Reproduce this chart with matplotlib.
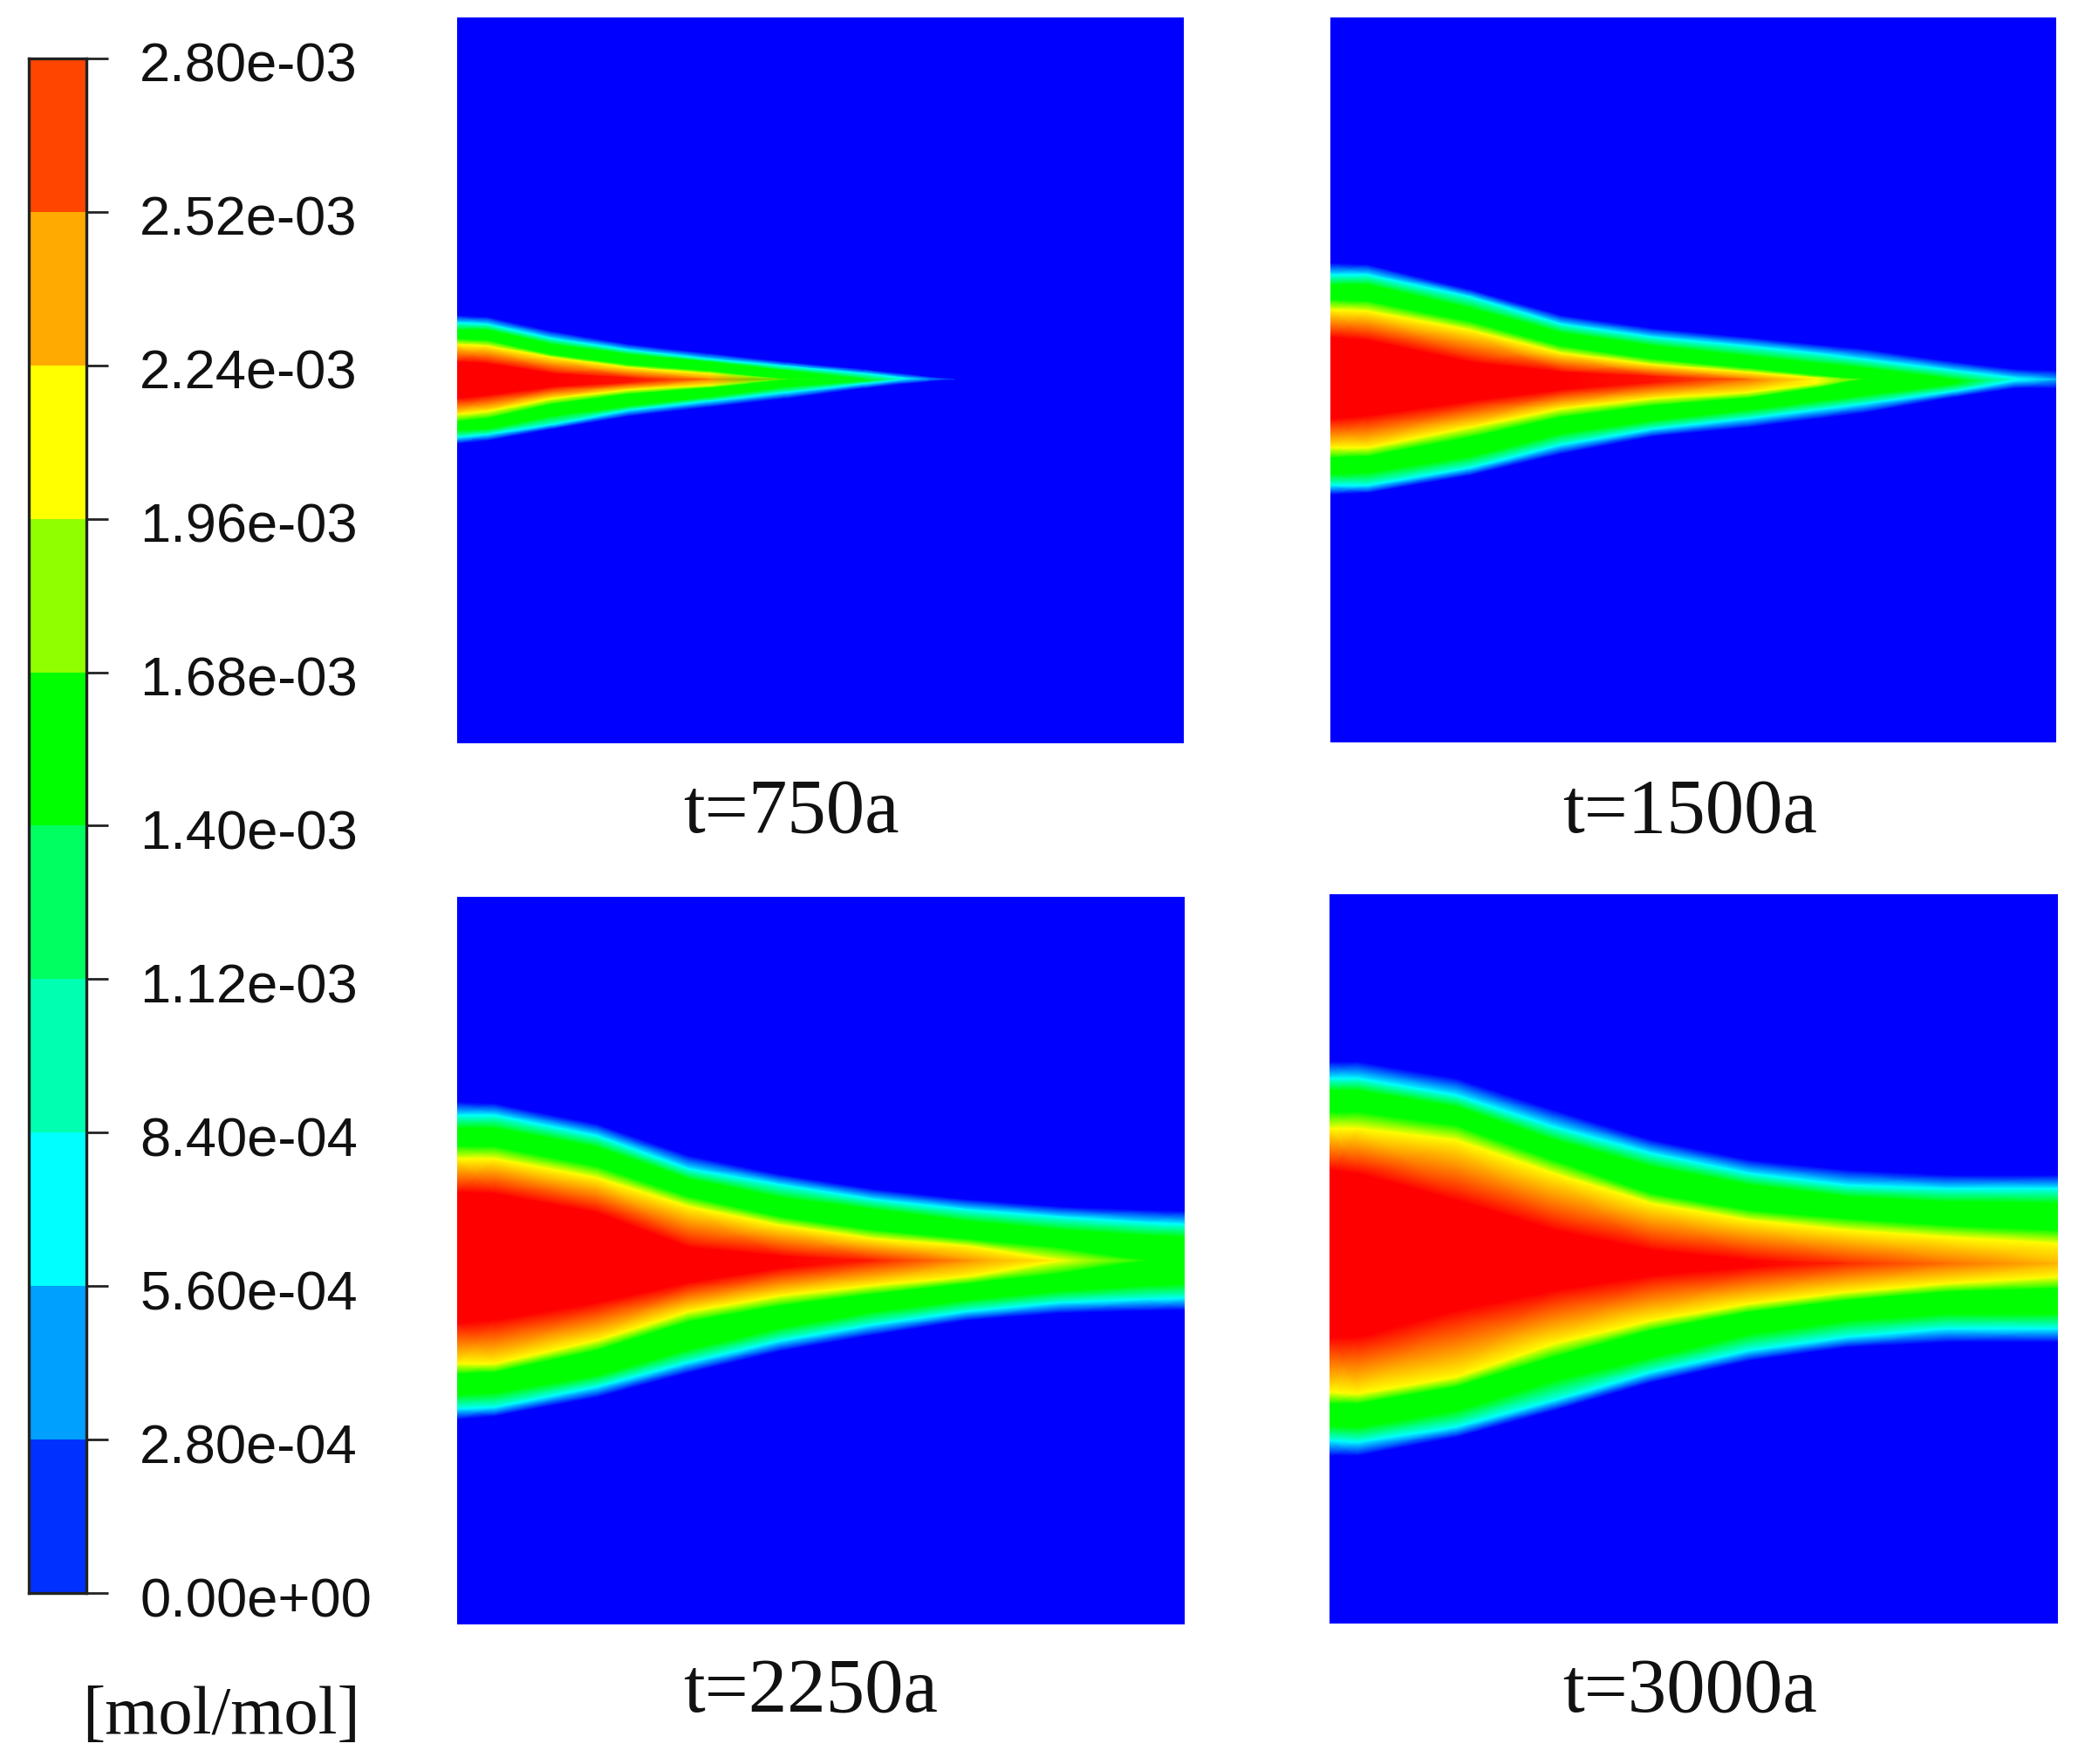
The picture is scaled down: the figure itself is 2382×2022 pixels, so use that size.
import numpy as np
import matplotlib
matplotlib.use('Agg')
import matplotlib.pyplot as plt
from matplotlib.colors import ListedColormap, LinearSegmentedColormap, Normalize
from matplotlib.transforms import ScaledTranslation

W, H = 2382, 2022

# colour bar
bar_ticks = [0.0, 2.8e-4, 5.6e-4, 8.4e-4, 1.12e-3, 1.4e-3, 1.68e-3, 1.96e-3, 2.24e-3, 2.52e-3, 2.8e-3]
bar_labels = ['0.00e+00', '2.80e-04', '5.60e-04', '8.40e-04', '1.12e-03', '1.40e-03',
              '1.68e-03', '1.96e-03', '2.24e-03', '2.52e-03', '2.80e-03']
bar_colors = ['#0030ff', '#00a0ff', '#00ffff', '#00ffb0', '#00ff60', '#00ff00',
              '#90ff00', '#ffff00', '#ffaa00', '#ff4500']

# mole fraction on each contour, outer edge to centre
edge_values = [0.0, 7.0e-4, 1.2e-3, 1.7e-3, 2.1e-3, 2.8e-3]
edge_colors = ['#0000ff', '#00ffff', '#00ff00', '#00ff00', '#ffff00', '#ff0000']

# plume edges in px of the reference crops (blue, cyan, green, green, yellow, red, centre, and back)
p1_crop = (500, 300, 2.24, 3.0)
p1_x = [53, 130, 300, 500, 700, 900, 1100, 1200, 1330]
p1_up = [[185, 190, 240, 285, 315, 345, 370, 385, 405],
         [210, 215, 265, 305, 335, 360, 385, 400, 405],
         [235, 235, 285, 320, 345, 375, 403, 405, 405],
         [265, 270, 320, 355, 375, 405, 405, 405, 405],
         [285, 290, 330, 365, 385, 405, 405, 405, 405],
         [345, 350, 385, 400, 405, 405, 405, 405, 405]]
p1_mid = [405, 405, 405, 405, 405, 405, 405, 405, 405]
p1_mid_val = [2.8e-3, 2.8e-3, 2.8e-3, 2.75e-3, 2.45e-3, 1.75e-3, 1.15e-3, 7.0e-4, 0.0]
p1_lo = [[625, 615, 575, 530, 500, 470, 435, 420, 405],
         [605, 595, 560, 510, 480, 450, 420, 405, 405],
         [580, 575, 530, 495, 465, 430, 410, 405, 405],
         [550, 540, 490, 455, 435, 408, 405, 405, 405],
         [525, 515, 470, 440, 425, 405, 405, 405, 405],
         [470, 460, 430, 415, 405, 405, 405, 405, 405]]

p2_crop = (1525, 290, 1.885, 3.0)
p2_x = [0, 80, 300, 500, 700, 900, 1050, 1150, 1350, 1480, 1568]
p2_up = [[35, 40, 125, 215, 260, 290, 315, 330, 375, 400, 405],
         [75, 75, 150, 245, 290, 320, 345, 365, 405, 430, 435],
         [110, 110, 190, 275, 320, 355, 380, 395, 435, 435, 435],
         [160, 165, 235, 320, 365, 395, 420, 435, 435, 435, 435],
         [195, 200, 265, 345, 385, 410, 430, 435, 435, 435, 435],
         [290, 300, 375, 410, 425, 435, 435, 435, 435, 435, 435]]
p2_mid = [435, 435, 435, 435, 435, 435, 435, 435, 435, 435, 435]
p2_mid_val = [2.8e-3, 2.8e-3, 2.8e-3, 2.8e-3, 2.75e-3, 2.5e-3, 2.1e-3, 1.7e-3, 1.2e-3, 7.0e-4, 5.0e-4]
p2_lo = [[830, 825, 765, 690, 630, 600, 570, 550, 495, 465, 465],
         [800, 800, 740, 660, 605, 570, 540, 520, 475, 440, 435],
         [760, 755, 700, 620, 575, 540, 510, 490, 450, 435, 435],
         [705, 700, 635, 565, 525, 500, 465, 435, 435, 435, 435],
         [670, 670, 600, 535, 500, 480, 450, 435, 435, 435, 435],
         [570, 560, 510, 470, 445, 435, 435, 435, 435, 435, 435]]

p3_crop = (524, 1240, 1.88, 3.0)
p3_x = [0, 80, 300, 500, 700, 900, 1100, 1300, 1490, 1568]
p3_up = [[70, 75, 145, 255, 320, 370, 405, 430, 442, 445],
         [115, 115, 185, 300, 355, 405, 440, 465, 485, 490],
         [160, 160, 225, 335, 400, 440, 480, 510, 530, 535],
         [220, 222, 290, 395, 465, 510, 540, 570, 615, 615],
         [265, 265, 330, 430, 495, 540, 565, 615, 615, 615],
         [380, 385, 450, 570, 600, 615, 615, 615, 615, 615]]
p3_mid = [615, 615, 615, 615, 615, 615, 615, 615, 615, 615]
p3_mid_val = [2.8e-3, 2.8e-3, 2.8e-3, 2.8e-3, 2.8e-3, 2.72e-3, 2.4e-3, 2.1e-3, 1.7e-3, 1.5e-3]
p3_lo = [[1160, 1150, 1085, 1000, 925, 870, 820, 795, 787, 785],
         [1125, 1120, 1050, 965, 890, 835, 790, 760, 748, 745],
         [1075, 1070, 1010, 920, 845, 790, 750, 720, 700, 695],
         [1005, 1000, 925, 825, 770, 730, 695, 660, 615, 615],
         [970, 970, 890, 790, 735, 700, 670, 615, 615, 615],
         [830, 820, 760, 690, 640, 615, 615, 615, 615, 615]]

p4_crop = (1500, 1150, 1.778, 2.613)
p4_x = [42, 100, 300, 500, 700, 900, 1100, 1300, 1527]
p4_up = [[175, 175, 225, 320, 410, 470, 500, 515, 515],
         [225, 225, 275, 370, 450, 510, 545, 555, 555],
         [262, 262, 310, 410, 490, 545, 580, 595, 600],
         [325, 325, 365, 470, 570, 620, 645, 665, 680],
         [375, 375, 410, 510, 600, 650, 680, 700, 720],
         [500, 510, 590, 680, 740, 770, 780, 780, 780]]
p4_mid = [780, 780, 780, 780, 780, 780, 780, 780, 780]
p4_mid_val = [2.8e-3, 2.8e-3, 2.8e-3, 2.8e-3, 2.8e-3, 2.8e-3, 2.68e-3, 2.5e-3, 2.3e-3]
p4_lo = [[1355, 1355, 1300, 1220, 1135, 1070, 1030, 1015, 1015],
         [1310, 1315, 1270, 1190, 1105, 1040, 1000, 975, 975],
         [1265, 1270, 1220, 1130, 1060, 990, 950, 930, 930],
         [1200, 1200, 1150, 1060, 980, 925, 890, 865, 855],
         [1165, 1170, 1120, 1020, 950, 900, 865, 840, 820],
         [1000, 1000, 920, 860, 815, 790, 780, 780, 780]]


def px_axes(fig, x0, y0, x1, y1):
    # axes placed with reference pixels, y down
    return fig.add_axes([x0 / W, 1 - y1 / H, (x1 - x0) / W, (y1 - y0) / H])


def draw_panel(fig, box, crop, xs, up, mid, mid_val, lo, title, tx, ty):
    ax = px_axes(fig, *box)
    ax.set_facecolor('#0000ff')
    cx, cy, sx, sy = crop
    # lo lists run from the outer edge inwards, flip so rows go top to bottom
    rows = np.array(up + [mid] + lo[::-1], dtype=float)
    X = np.tile(np.array(xs, dtype=float), (rows.shape[0], 1)) / sx + cx
    Y = rows / sy + cy
    levels = edge_values + [edge_values[-1]] + edge_values[::-1]
    C = np.array([np.minimum(lev, mid_val) for lev in levels])
    C[6] = mid_val
    ax.pcolormesh(X, Y, C, shading='gouraud', cmap=field_cmap, norm=field_norm)
    ax.set_xlim(box[0], box[2])
    ax.set_ylim(box[3], box[1])
    ax.set_xticks([])
    ax.set_yticks([])
    for s in ax.spines.values():
        s.set_visible(False)
    fig.text(tx / W, 1 - ty / H, title, family='Liberation Serif', fontsize=64,
             ha='center', va='baseline', color='#111111')


pos = [(v - edge_values[0]) / (edge_values[-1] - edge_values[0]) for v in edge_values]
field_cmap = LinearSegmentedColormap.from_list('plume', list(zip(pos, edge_colors)), N=1024)
field_norm = Normalize(edge_values[0], edge_values[-1])

fig = plt.figure(figsize=(W / 100, H / 100), dpi=100, facecolor='white')

draw_panel(fig, (524, 20, 1357, 852), p1_crop, p1_x, p1_up, p1_mid, p1_mid_val, p1_lo, 't=750a', 907, 954)
draw_panel(fig, (1525, 20, 2357, 851), p2_crop, p2_x, p2_up, p2_mid, p2_mid_val, p2_lo, 't=1500a', 1937, 954)
draw_panel(fig, (524, 1028, 1358, 1862), p3_crop, p3_x, p3_up, p3_mid, p3_mid_val, p3_lo, 't=2250a', 929, 1962)
draw_panel(fig, (1524, 1025, 2359, 1861), p4_crop, p4_x, p4_up, p4_mid, p4_mid_val, p4_lo, 't=3000a', 1937, 1962)

# colour bar with its ticks on the right
cax = px_axes(fig, 33, 67, 99, 1826)
band_mid = [(a + b) / 2 for a, b in zip(bar_ticks[:-1], bar_ticks[1:])]
cax.pcolormesh([0, 1], bar_ticks, np.array(band_mid).reshape(-1, 1),
               cmap=ListedColormap(bar_colors), vmin=bar_ticks[0], vmax=bar_ticks[-1])
cax.set_xlim(0, 1)
cax.set_ylim(bar_ticks[0], bar_ticks[-1])
cax.set_xticks([])
cax.yaxis.tick_right()
cax.set_yticks(bar_ticks)
cax.set_yticklabels(bar_labels, family='Liberation Sans', fontsize=45.5, color='#111111')
cax.tick_params(axis='y', length=18, width=2, pad=26, color='#222222')
for lab in cax.get_yticklabels():
    lab.set_transform(lab.get_transform() + ScaledTranslation(0, -4 / 100, fig.dpi_scale_trans))
for s in cax.spines.values():
    s.set_linewidth(2.4)
    s.set_color('#222222')

fig.text(254 / W, 1 - 1987 / H, '[mol/mol]', family='Liberation Serif', fontsize=56.5,
         ha='center', va='baseline', color='#111111')

fig.savefig('out.png', dpi=100)
